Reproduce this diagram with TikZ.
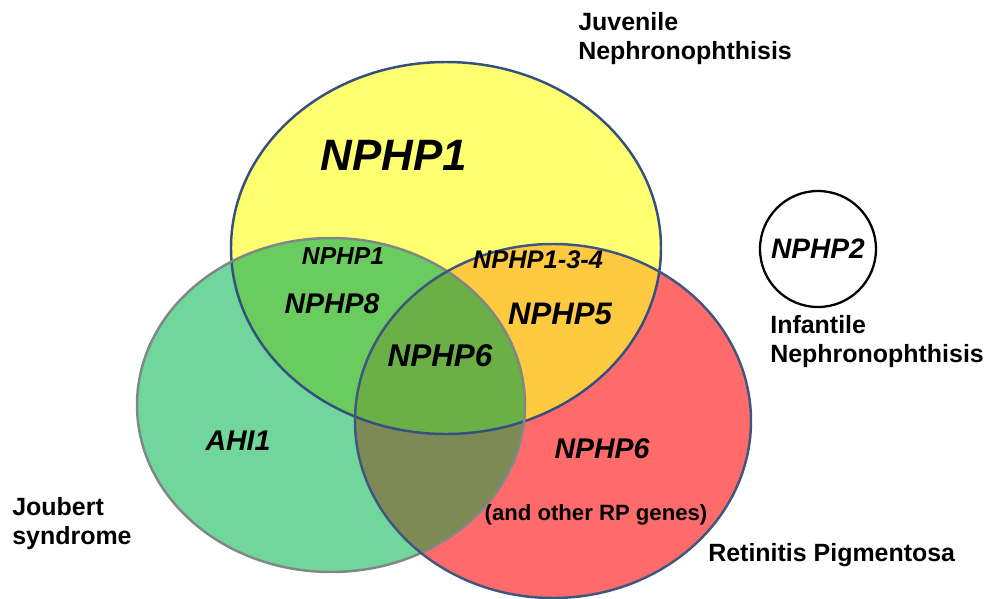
\documentclass[tikz,border=0pt]{standalone}
\usepackage{fontspec}
\setmainfont{Liberation Sans}
\usepackage{tikz}

\definecolor{yelfill}{HTML}{FFFF70}
\definecolor{grnfill}{HTML}{70D69B}
\definecolor{redfill}{HTML}{FF6B6B}
\definecolor{yelred}{HTML}{FFC940}
\definecolor{yelgrn}{HTML}{6ACB5E}
\definecolor{grnred}{HTML}{7D8A55}
\definecolor{allthree}{HTML}{6BAF47}
\definecolor{blueline}{HTML}{34507E}
\definecolor{grayline}{HTML}{7F8885}

\tikzset{
  juvshape/.style={insert path={(446,248) ellipse [x radius=215, y radius=186]}},
  joushape/.style={insert path={(331,405) ellipse [x radius=194, y radius=167]}},
  retshape/.style={insert path={(553,421) ellipse [x radius=198, y radius=177]}},
  gene/.style={font=\bfseries\itshape\fontsize{#1}{#1}\selectfont, inner sep=0pt},
  disease/.style={font=\bfseries\fontsize{14.2}{16.6}\selectfont, align=left, inner sep=0pt}
}

\begin{document}
\begin{tikzpicture}[x=0.02cm,y=-0.02cm]
                    \useasboundingbox (0,0) rectangle (1002,599);

                    % circles and their overlaps
                    \fill[yelfill, juvshape];
                    \fill[grnfill, joushape];
                    \fill[redfill, retshape];
                    \begin{scope}
                      \clip[juvshape];
                      \fill[yelgrn, joushape];
                      \fill[yelred, retshape];
                    \end{scope}
                    \begin{scope}
                      \clip[joushape];
                      \fill[grnred, retshape];
                      \clip[juvshape];
                      \fill[allthree, retshape];
                    \end{scope}
                    \draw[blueline, line width=1.4pt, juvshape];
                    \draw[grayline, line width=1.4pt, joushape];
                    \draw[blueline!85!gray, line width=1.4pt, retshape];

                    % gene names
                    \node[gene=25] at (394,155) (bigone) {NPHP1};
                    \node[gene=14] at (343,256) (smallone) {NPHP1};
                    \node[gene=16.2] at (332,304) (eight) {NPHP8};
                    \node[gene=14.5] at (538,260) (onethreefour) {NPHP1-3-4};
                    \node[gene=17.7] at (560,314) (five) {NPHP5};
                    \node[gene=17.9] at (440,356) (sixmid) {NPHP6};
                    \node[gene=16.2] at (238,441) (ahi) {AHI1};
                    \node[gene=16.2] at (602,449) (sixret) {NPHP6};
                    \node[font=\bfseries\fontsize{12.6}{14}\selectfont, inner sep=0pt] at (596,515) (otherrp) {(and other RP genes)};

                    % infantile
                    \node[draw, circle, line width=1.3pt, minimum size=116*0.02cm, inner sep=0pt] at (818,249) (infcirc) {};
                    \node[gene=16] at (infcirc.center) (two) {NPHP2};

                    % disease labels
                    \node[disease, anchor=north west] at (578,12) (juvlabel) {Juvenile\\Nephronophthisis};
                    \node[disease, anchor=north west] at (770,315) (inflabel) {Infantile\\Nephronophthisis};
                    \node[disease, anchor=north west] at (12,497) (joulabel) {Joubert\\syndrome};
                    \node[disease, anchor=west] at (708,555) (retlabel) {Retinitis Pigmentosa};
                \end{tikzpicture}
\end{document}
